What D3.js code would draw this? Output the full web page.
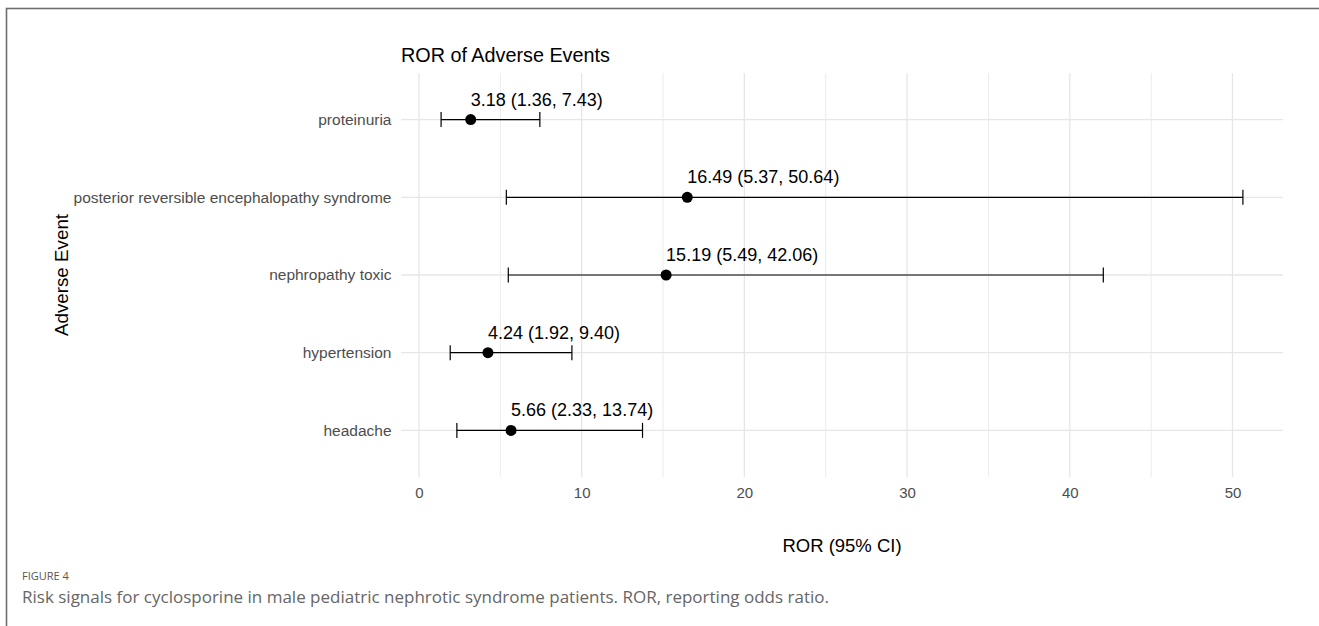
<!DOCTYPE html>
<html>
<head>
<meta charset="utf-8">
<script src="https://cdn.jsdelivr.net/npm/d3@7"></script>
<style>
  body { margin: 0; background: #fff; }
  svg { display: block; }
</style>
</head>
<body>
<div id="chart"></div>
<script>
// data (top row first)
var events = ["proteinuria", "posterior reversible encephalopathy syndrome", "nephropathy toxic", "hypertension", "headache"];
var ror = [3.18, 16.49, 15.19, 4.24, 5.66];
var lower = [1.36, 5.37, 5.49, 1.92, 2.33];
var upper = [7.43, 50.64, 42.06, 9.40, 13.74];
var xTicks = [0, 10, 20, 30, 40, 50];

(function() {
  var W = 1319, H = 626;
  var panel = { left: 401, right: 1283, top: 73, bottom: 477 };
  var font = "'Liberation Sans', Arial, sans-serif";

  var svg = d3.select("#chart")
    .append("svg")
    .attr("width", W)
    .attr("height", H);

  // frame around figure
  svg.append("rect")
    .attr("x", 6.5).attr("y", 8.5)
    .attr("width", W + 20).attr("height", H + 20)
    .attr("fill", "none")
    .attr("stroke", "#6e6e6e")
    .attr("stroke-width", 1.6);

  var rows = events.map(function(e, i) {
    return { event: e, ror: ror[i], lo: lower[i], hi: upper[i] };
  });

  // ggplot-style 5% expansion of the data range
  var lo = d3.min(lower), hi = d3.max(upper), pad = (hi - lo) * 0.05;
  var x = d3.scaleLinear()
    .domain([lo - pad, hi + pad])
    .range([panel.left, panel.right]);

  // discrete axis with 0.6 expansion
  var y = d3.scalePoint()
    .domain(events)
    .range([panel.top, panel.bottom])
    .padding(0.6);

  var grid = svg.append("g").attr("class", "grid");
  var minor = d3.range(5, 50, 10);
  grid.selectAll(".minor")
    .data(minor)
    .enter().append("line")
    .attr("x1", function(d) { return x(d); })
    .attr("x2", function(d) { return x(d); })
    .attr("y1", panel.top).attr("y2", panel.bottom)
    .attr("stroke", "#ebebeb").attr("stroke-width", 1);
  grid.selectAll(".major-x")
    .data(xTicks)
    .enter().append("line")
    .attr("x1", function(d) { return x(d); })
    .attr("x2", function(d) { return x(d); })
    .attr("y1", panel.top).attr("y2", panel.bottom)
    .attr("stroke", "#e6e6e6").attr("stroke-width", 1.3);
  grid.selectAll(".major-y")
    .data(events)
    .enter().append("line")
    .attr("x1", panel.left).attr("x2", panel.right)
    .attr("y1", function(d) { return y(d); })
    .attr("y2", function(d) { return y(d); })
    .attr("stroke", "#e6e6e6").attr("stroke-width", 1.3);

  // axes, no domain line or ticks (theme_minimal)
  var xAxis = svg.append("g")
    .attr("transform", "translate(0," + panel.bottom + ")")
    .call(d3.axisBottom(x).tickValues(xTicks).tickSize(0).tickPadding(10));
  var yAxis = svg.append("g")
    .attr("transform", "translate(" + panel.left + ",0)")
    .call(d3.axisLeft(y).tickSize(0).tickPadding(9.5));
  xAxis.select(".domain").remove();
  yAxis.select(".domain").remove();
  xAxis.selectAll("text")
    .attr("fill", "#4d4d4d")
    .style("font-family", font)
    .style("font-size", "15px");
  yAxis.selectAll("text")
    .attr("fill", "#4d4d4d")
    .style("font-family", font)
    .style("font-size", "15.5px");

  // error bars
  var bars = svg.append("g").attr("class", "bars");
  bars.selectAll(".ci")
    .data(rows)
    .enter().append("line")
    .attr("x1", function(d) { return x(d.lo); })
    .attr("x2", function(d) { return x(d.hi); })
    .attr("y1", function(d) { return y(d.event); })
    .attr("y2", function(d) { return y(d.event); })
    .attr("stroke", "black").attr("stroke-width", 1.2);
  ["lo", "hi"].forEach(function(k) {
    bars.selectAll(".cap-" + k)
      .data(rows)
      .enter().append("line")
      .attr("x1", function(d) { return x(d[k]); })
      .attr("x2", function(d) { return x(d[k]); })
      .attr("y1", function(d) { return y(d.event) - 7.5; })
      .attr("y2", function(d) { return y(d.event) + 7.5; })
      .attr("stroke", "black").attr("stroke-width", 1.2);
  });
  bars.selectAll("circle")
    .data(rows)
    .enter().append("circle")
    .attr("cx", function(d) { return x(d.ror); })
    .attr("cy", function(d) { return y(d.event); })
    .attr("r", 5.5)
    .attr("fill", "black");

  bars.selectAll(".lab")
    .data(rows)
    .enter().append("text")
    .attr("x", function(d) { return x(d.ror); })
    .attr("y", function(d) { return y(d.event) - 14; })
    .style("font-family", font)
    .style("font-size", "18px")
    .attr("fill", "black")
    .text(function(d) {
      return d.ror.toFixed(2) + " (" + d.lo.toFixed(2) + ", " + d.hi.toFixed(2) + ")";
    });

  // titles
  svg.append("text")
    .attr("x", panel.left).attr("y", 62)
    .style("font-family", font)
    .style("font-size", "19.8px")
    .text("ROR of Adverse Events");
  svg.append("text")
    .attr("x", (panel.left + panel.right) / 2).attr("y", 552)
    .attr("text-anchor", "middle")
    .style("font-family", font)
    .style("font-size", "18.5px")
    .text("ROR (95% CI)");
  svg.append("text")
    .attr("transform", "translate(68," + (panel.top + panel.bottom) / 2 + ") rotate(-90)")
    .attr("text-anchor", "middle")
    .style("font-family", font)
    .style("font-size", "18.8px")
    .text("Adverse Event");

  // caption
  svg.append("text")
    .attr("x", 22).attr("y", 580)
    .attr("fill", "#555")
    .style("font-family", "'Open Sans', sans-serif")
    .style("font-size", "11px")
    .text("FIGURE 4");
  svg.append("text")
    .attr("x", 22).attr("y", 603)
    .attr("fill", "#666")
    .style("font-family", "'Open Sans', sans-serif")
    .style("font-size", "17px")
    .text("Risk signals for cyclosporine in male pediatric nephrotic syndrome patients. ROR, reporting odds ratio.");
})();
</script>
</body>
</html>
